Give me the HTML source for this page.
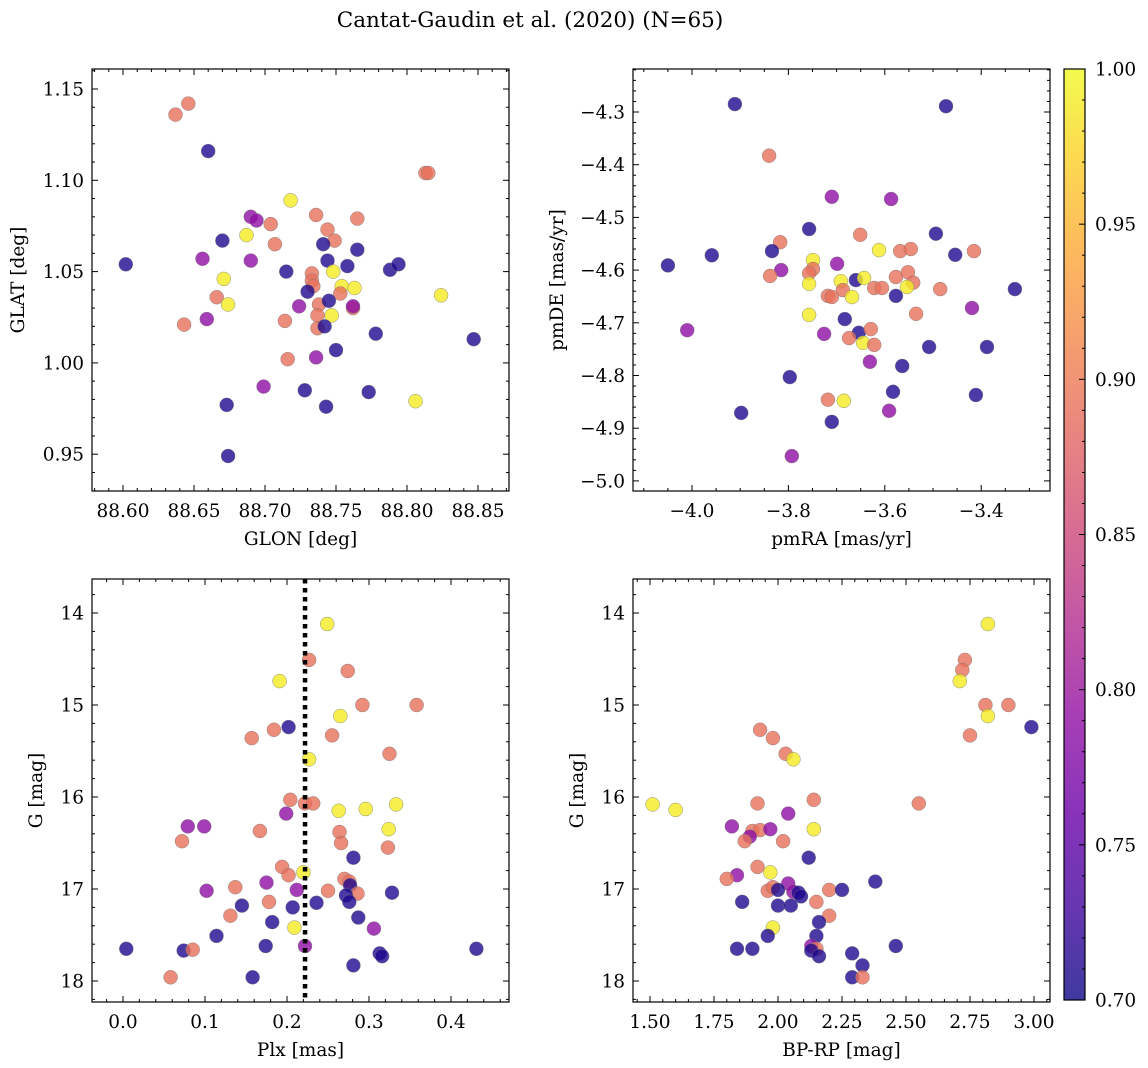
<!DOCTYPE html>
<html><head><meta charset="utf-8">
<style>
html,body{margin:0;padding:0;background:#fff;}
svg{display:block;font-family:"DejaVu Serif","Liberation Serif",serif;}
</style></head>
<body>
<svg id="fig" width="1148" height="1068" viewBox="0 0 1148 1068" xmlns="http://www.w3.org/2000/svg">
<text x="530" y="27" text-anchor="middle" font-size="21.5">Cantat-Gaudin et al. (2020) (N=65)</text>
</svg>
<script>
// ---- Panel 1: GLON vs GLAT ----
const p1_glon=[88.637,88.646,88.660,88.602,88.813,88.815,88.718,88.690,88.694,88.704,88.687,88.670,88.707,88.736,88.744,88.749,88.741,88.765,88.765,88.656,88.690,88.715,88.733,88.744,88.758,88.788,88.794,88.748,88.733,88.734,88.671,88.754,88.763,88.753,88.666,88.730,88.738,88.724,88.745,88.674,88.762,88.762,88.824,88.643,88.659,88.714,88.737,88.747,88.737,88.742,88.778,88.847,88.750,88.716,88.736,88.699,88.728,88.773,88.806,88.673,88.743,88.674];
const p1_glat=[1.136,1.142,1.116,1.054,1.104,1.104,1.089,1.080,1.078,1.076,1.070,1.067,1.065,1.081,1.073,1.067,1.065,1.079,1.062,1.057,1.056,1.050,1.049,1.056,1.053,1.051,1.054,1.050,1.045,1.042,1.046,1.042,1.041,1.038,1.036,1.039,1.032,1.031,1.034,1.032,1.030,1.031,1.037,1.021,1.024,1.023,1.026,1.026,1.019,1.020,1.016,1.013,1.007,1.002,1.003,0.987,0.985,0.984,0.979,0.977,0.976,0.949];
const p1_prob=[0.89,0.89,0.71,0.71,0.89,0.89,0.99,0.79,0.79,0.89,0.99,0.71,0.89,0.89,0.89,0.89,0.71,0.89,0.71,0.79,0.79,0.71,0.89,0.71,0.71,0.71,0.71,0.99,0.89,0.89,0.99,0.99,0.99,0.89,0.89,0.71,0.89,0.79,0.71,0.99,0.89,0.79,0.99,0.89,0.79,0.89,0.89,0.99,0.89,0.71,0.71,0.71,0.71,0.89,0.79,0.79,0.71,0.71,0.99,0.71,0.71,0.71];
const p1_xticks=[88.60,88.65,88.70,88.75,88.80,88.85];
const p1_xlabels=["88.60","88.65","88.70","88.75","88.80","88.85"];
const p1_yticks=[0.95,1.00,1.05,1.10,1.15];
const p1_ylabels=["0.95","1.00","1.05","1.10","1.15"];

// ---- Panel 2: pmRA vs pmDE ----
const p2_pmra=[-3.911,-3.840,-3.757,-3.817,-3.834,-3.959,-4.050,-3.749,-3.749,-3.757,-3.815,-3.838,-3.757,-3.757,-4.010,-3.797,-3.898,-3.793,
 -3.473,-3.710,-3.587,-3.651,-3.494,-3.612,-3.568,-3.546,-3.454,-3.415,-3.699,-3.691,-3.660,-3.643,-3.577,-3.552,-3.541,-3.554,-3.622,-3.606,-3.485,-3.330,-3.718,-3.710,-3.687,-3.668,-3.577,-3.535,-3.419,-3.683,-3.654,-3.629,-3.674,-3.645,-3.622,-3.726,-3.508,-3.388,-3.631,-3.564,-3.583,-3.411,-3.718,-3.685,-3.591,-3.710];
const p2_pmde=[-4.285,-4.383,-4.522,-4.547,-4.564,-4.572,-4.591,-4.581,-4.598,-4.606,-4.600,-4.611,-4.626,-4.685,-4.714,-4.803,-4.871,-4.953,
 -4.289,-4.461,-4.465,-4.533,-4.531,-4.562,-4.564,-4.560,-4.571,-4.564,-4.588,-4.621,-4.619,-4.615,-4.613,-4.604,-4.624,-4.632,-4.634,-4.634,-4.636,-4.636,-4.649,-4.651,-4.638,-4.651,-4.649,-4.683,-4.672,-4.693,-4.719,-4.712,-4.729,-4.738,-4.742,-4.721,-4.746,-4.746,-4.774,-4.782,-4.831,-4.837,-4.846,-4.848,-4.867,-4.888];
const p2_prob=[0.71,0.89,0.71,0.89,0.71,0.71,0.71,0.99,0.89,0.89,0.79,0.89,0.99,0.99,0.79,0.71,0.71,0.79,
 0.71,0.79,0.79,0.89,0.71,0.99,0.89,0.89,0.71,0.89,0.79,0.99,0.71,0.99,0.89,0.89,0.89,0.99,0.89,0.89,0.89,0.71,0.89,0.89,0.89,0.99,0.71,0.89,0.79,0.71,0.71,0.89,0.89,0.99,0.89,0.79,0.71,0.71,0.79,0.71,0.71,0.71,0.89,0.99,0.79,0.71];
const p2_xticks=[-4.0,-3.8,-3.6,-3.4];
const p2_xlabels=["\u22124.0","\u22123.8","\u22123.6","\u22123.4"];
const p2_yticks=[-5.0,-4.9,-4.8,-4.7,-4.6,-4.5,-4.4,-4.3];
const p2_ylabels=["\u22125.0","\u22124.9","\u22124.8","\u22124.7","\u22124.6","\u22124.5","\u22124.4","\u22124.3"];

// ---- Panel 3: Plx vs G ----
const p3_plx=[0.249,0.227,0.274,0.191,0.292,0.358,0.265,0.202,0.184,0.157,0.255,0.325,0.227,0.204,0.222,0.232,0.333,0.263,0.296,0.199,0.167,0.264,0.324,0.079,0.099,0.072,0.266,0.323,0.281,0.194,0.220,0.202,0.270,0.276,0.175,0.277,0.212,0.102,0.137,0.250,0.286,0.328,0.272,0.178,0.145,0.207,0.236,0.306,0.209,0.276,0.287,0.131,0.182,0.114,0.174,0.222,0.313,0.316,0.004,0.074,0.085,0.431,0.281,0.058,0.158];
const p3_g=[14.12,14.51,14.63,14.74,15.00,15.00,15.12,15.24,15.27,15.36,15.33,15.53,15.59,16.03,16.07,16.07,16.08,16.15,16.13,16.18,16.37,16.38,16.35,16.32,16.32,16.48,16.50,16.55,16.66,16.76,16.82,16.85,16.89,16.92,16.93,16.96,17.01,17.02,16.98,17.02,17.05,17.04,17.07,17.14,17.18,17.20,17.15,17.43,17.42,17.14,17.31,17.29,17.36,17.51,17.62,17.62,17.70,17.73,17.65,17.67,17.66,17.65,17.83,17.96,17.96];
const p3_prob=[0.99,0.89,0.89,0.99,0.89,0.89,0.99,0.71,0.89,0.89,0.89,0.89,0.99,0.89,0.89,0.89,0.99,0.99,0.99,0.79,0.89,0.89,0.99,0.79,0.79,0.89,0.89,0.89,0.71,0.89,0.99,0.89,0.89,0.89,0.79,0.71,0.79,0.79,0.89,0.89,0.89,0.71,0.71,0.89,0.71,0.71,0.71,0.79,0.99,0.71,0.71,0.89,0.71,0.71,0.71,0.79,0.71,0.71,0.71,0.71,0.89,0.71,0.71,0.89,0.71];
const p3_cut=[0.222];
const p3_xticks=[0.0,0.1,0.2,0.3,0.4];
const p3_xlabels=["0.0","0.1","0.2","0.3","0.4"];
const p3_yticks=[14,15,16,17,18];
const p3_ylabels=["14","15","16","17","18"];

// ---- Panel 4: BP-RP vs G ----
const p4_bprp=[2.82,2.73,2.72,2.71,2.81,2.90,2.82,2.99,2.75,1.93,1.98,2.03,2.06,1.51,1.60,1.92,2.14,2.55,2.04,2.14,1.82,1.90,1.93,1.97,1.89,1.87,2.02,2.12,1.92,1.97,1.84,1.80,2.38,2.04,1.96,1.98,2.00,2.06,2.20,2.25,2.08,2.09,2.15,1.86,2.00,2.05,2.20,1.98,2.16,1.96,2.15,2.46,2.13,2.15,2.13,1.84,1.90,2.16,2.29,2.33,2.29,2.33];
const p4_g=[14.12,14.51,14.62,14.74,15.00,15.00,15.12,15.24,15.33,15.27,15.36,15.53,15.59,16.08,16.14,16.07,16.03,16.07,16.18,16.35,16.32,16.37,16.36,16.35,16.43,16.48,16.48,16.66,16.76,16.82,16.85,16.89,16.92,16.94,17.02,16.98,17.01,17.03,17.01,17.01,17.04,17.08,17.14,17.14,17.18,17.18,17.29,17.42,17.36,17.51,17.51,17.62,17.62,17.65,17.67,17.65,17.65,17.73,17.70,17.83,17.96,17.96];
const p4_prob=[0.99,0.89,0.89,0.99,0.89,0.89,0.99,0.71,0.89,0.89,0.89,0.89,0.99,0.99,0.99,0.89,0.89,0.89,0.79,0.99,0.79,0.89,0.89,0.79,0.79,0.89,0.89,0.71,0.89,0.99,0.79,0.89,0.71,0.79,0.89,0.89,0.71,0.79,0.89,0.71,0.71,0.71,0.89,0.71,0.71,0.71,0.89,0.99,0.71,0.71,0.71,0.71,0.79,0.89,0.71,0.71,0.71,0.71,0.71,0.71,0.71,0.89];
const p4_xticks=[1.50,1.75,2.00,2.25,2.50,2.75,3.00];
const p4_xlabels=["1.50","1.75","2.00","2.25","2.50","2.75","3.00"];
const p4_yticks=[14,15,16,17,18];
const p4_ylabels=["14","15","16","17","18"];

// ---- Colorbar ----
const cb_ticks=[0.70,0.75,0.80,0.85,0.90,0.95,1.00];
const cb_labels=["0.70","0.75","0.80","0.85","0.90","0.95","1.00"];
const cb_range=[0.70,1.00];

const NS="http://www.w3.org/2000/svg";
const fig=document.getElementById('fig');
function mk(tag,attrs,parent){const e=document.createElementNS(NS,tag);for(const k in attrs)e.setAttribute(k,attrs[k]);(parent||fig).appendChild(e);return e;}

const plasma=[[13,8,135],[65,4,157],[106,0,168],[143,13,164],[177,42,144],[204,71,120],[225,100,98],[242,132,75],[252,166,54],[252,206,37],[240,249,33]];
function cmap(t){t=Math.max(0,Math.min(1,t));const f=t*10;const i=Math.min(9,Math.floor(f));const r=f-i;const a=plasma[i],b=plasma[i+1];
return `rgb(${Math.round(a[0]+(b[0]-a[0])*r)},${Math.round(a[1]+(b[1]-a[1])*r)},${Math.round(a[2]+(b[2]-a[2])*r)})`;}
function pcol(p){return cmap((p-cb_range[0])/(cb_range[1]-cb_range[0]));}

const TICKFS=18.5, TITLEFS=18.5;

function panel(cfg){
  const g=mk('g',{});
  
  
  const {x0,x1,y0,y1,xmin,xmax,ymin,ymax,yinv}=cfg;
  const sx=v=>x0+(v-xmin)/(xmax-xmin)*(x1-x0);
  const sy=v=>yinv? y0+(v-ymin)/(ymax-ymin)*(y1-y0) : y1-(v-ymin)/(ymax-ymin)*(y1-y0);
  const pg=mk('g',{},g);
  
  
  for(let i=0;i<cfg.xs.length;i++){
    const c=mk('circle',{cx:sx(cfg.xs[i]).toFixed(1),cy:sy(cfg.ys[i]).toFixed(1),r:7,fill:pcol(cfg.ps[i]),'fill-opacity':0.8,stroke:'#777','stroke-width':0.4},pg);
    
    
  }
  if(cfg.vline){
    const l=mk('line',{x1:sx(cfg.vline),x2:sx(cfg.vline),y1:y0,y2:y1,stroke:'#000','stroke-width':4.5,'stroke-dasharray':'4.5 4.5'},g);
    
    
  }
  const fr=mk('rect',{x:x0,y:y0,width:x1-x0,height:y1-y0,fill:'none',stroke:'#000','stroke-width':1.2},g);
  
  
  const tg=mk('g',{stroke:'#000','stroke-width':1},g);
  
  
  const eps=1e-9;
  for(let v=Math.ceil(xmin/cfg.xminor-eps)*cfg.xminor; v<=xmax+eps; v+=cfg.xminor){
    const X=sx(v); if(X<x0+0.5||X>x1-0.5) continue;
    const major=cfg.xticks.some(t=>Math.abs(t-v)<cfg.xminor/3);
    const L=major?6:3;
    mk('line',{x1:X,x2:X,y1:y1,y2:y1-L},tg);mk('line',{x1:X,x2:X,y1:y0,y2:y0+L},tg);
  }
  for(let v=Math.ceil(ymin/cfg.yminor-eps)*cfg.yminor; v<=ymax+eps; v+=cfg.yminor){
    const Y=sy(v); if(Y<y0+0.5||Y>y1-0.5) continue;
    const major=cfg.yticks.some(t=>Math.abs(t-v)<cfg.yminor/3);
    const L=major?6:3;
    mk('line',{x1:x0,x2:x0+L,y1:Y,y2:Y},tg);mk('line',{x1:x1,x2:x1-L,y1:Y,y2:Y},tg);
  }
  cfg.xticks.forEach((t,i)=>{
    const tx=mk('text',{x:sx(t),y:y1+26,'text-anchor':'middle','font-size':TICKFS},g);
    tx.textContent=cfg.xlabels[i];
    
    
  });
  cfg.yticks.forEach((t,i)=>{
    const tx=mk('text',{x:x0-8,y:sy(t)+6.5,'text-anchor':'end','font-size':TICKFS},g);
    tx.textContent=cfg.ylabels[i];
    
    
  });
  const xl=mk('text',{x:(x0+x1)/2,y:y1+54,'text-anchor':'middle','font-size':TITLEFS},g);
  xl.textContent=cfg.xtitle;
  
  
  const yc=(y0+y1)/2;
  const yl=mk('text',{x:cfg.ytx,y:yc,'text-anchor':'middle','font-size':TITLEFS,transform:`rotate(-90 ${cfg.ytx} ${yc})`},g);
  yl.textContent=cfg.ytitle;
  
  
}

panel({name:'glon-glat-panel',x0:92,x1:509,y0:69,y1:491,xmin:88.60-31/1420,xmax:88.60+386/1420,ymin:1.15-402/1826,ymax:1.15+20/1826,
  xs:p1_glon,ys:p1_glat,ps:p1_prob,xticks:p1_xticks,xlabels:p1_xlabels,yticks:p1_yticks,ylabels:p1_ylabels,xminor:0.01,yminor:0.01,
  xtitle:'GLON [deg]',ytitle:'GLAT [deg]',ytx:24});
panel({name:'proper-motion-panel',x0:633,x1:1050,y0:69,y1:491,xmin:-4.0-59/482,xmax:-4.0+358/482,ymin:-4.3-379/527,ymax:-4.3+43/527,
  xs:p2_pmra,ys:p2_pmde,ps:p2_prob,xticks:p2_xticks,xlabels:p2_xlabels,yticks:p2_yticks,ylabels:p2_ylabels,xminor:0.05,yminor:0.02,
  xtitle:'pmRA [mas/yr]',ytitle:'pmDE [mas/yr]',ytx:563});
panel({name:'parallax-magnitude-panel',x0:92,x1:509,y0:579,y1:1002,xmin:-31/820,xmax:386/820,ymin:14-34/92,ymax:18+21/92,yinv:true,
  xs:p3_plx,ys:p3_g,ps:p3_prob,xticks:p3_xticks,xlabels:p3_xlabels,yticks:p3_yticks,ylabels:p3_ylabels,xminor:0.02,yminor:0.2,vline:p3_cut[0],
  xtitle:'Plx [mas]',ytitle:'G [mag]',ytx:42});
panel({name:'color-magnitude-panel',x0:633,x1:1050,y0:579,y1:1002,xmin:1.5-17/256,xmax:1.5+400/256,ymin:14-34/92,ymax:18+21/92,yinv:true,
  xs:p4_bprp,ys:p4_g,ps:p4_prob,xticks:p4_xticks,xlabels:p4_xlabels,yticks:p4_yticks,ylabels:p4_ylabels,xminor:0.05,yminor:0.2,
  xtitle:'BP-RP [mag]',ytitle:'G [mag]',ytx:583});

(function(){
  const x0=1064,x1=1085,y0=69,y1=1000;
  const g=mk('g',{});
  
  
  const defs=mk('defs',{},g);
  const lg=mk('linearGradient',{id:'cbg',x1:0,y1:1,x2:0,y2:0},defs);
  for(let i=0;i<=20;i++){mk('stop',{offset:(i/20),'stop-color':cmap(i/20)},lg);}
  const r=mk('rect',{x:x0,y:y0,width:x1-x0,height:y1-y0,fill:'url(#cbg)','fill-opacity':0.8,stroke:'#000','stroke-width':1.2},g);
  
  
  const sy=v=>y1-(v-cb_range[0])/(cb_range[1]-cb_range[0])*(y1-y0);
  for(let k=0;k<=30;k++){const v=cb_range[0]+k*0.01;const Y=sy(v);const major=k%5===0;
    mk('line',{x1:x1,x2:x1-(major?6:3),y1:Y,y2:Y,stroke:'#000','stroke-width':1},g);}
  cb_ticks.forEach((t,i)=>{
    const tx=mk('text',{x:x1+10,y:sy(t)+6.5,'font-size':TICKFS},g);
    tx.textContent=cb_labels[i];
    
    
  });
})();
</script>
</body></html>
